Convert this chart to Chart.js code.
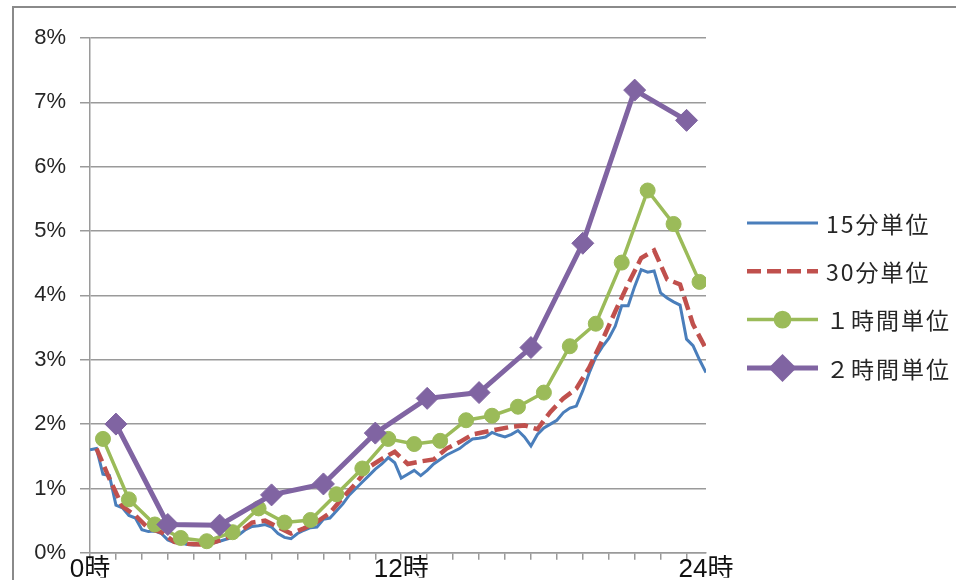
<!DOCTYPE html>
<html lang="ja">
<head>
<meta charset="utf-8">
<title>時間帯別の割合</title>
<script src="https://cdn.jsdelivr.net/npm/chart.js@4.4.1/dist/chart.umd.min.js"></script>
<style>
  html, body { margin: 0; padding: 0; background: #ffffff; }
  #wrap { width: 956px; height: 580px; position: relative; }
  canvas { display: block; }
</style>
</head>
<body>
<div id="wrap"><canvas id="chart" width="956" height="580"></canvas></div>
<script>
// Share of the day's total per time slot (%), x axis in 15-minute slots (0..95)
const series15 = [
  1.60, 1.62, 1.22, 1.20, 0.74, 0.70, 0.58, 0.54, 0.36, 0.33, 0.34, 0.30,
  0.20, 0.16, 0.15, 0.13, 0.12, 0.13, 0.13, 0.15, 0.18, 0.21, 0.24, 0.28,
  0.36, 0.41, 0.42, 0.44, 0.40, 0.30, 0.24, 0.22, 0.30, 0.35, 0.39, 0.40,
  0.52, 0.54, 0.65, 0.76, 0.90, 1.00, 1.10, 1.20, 1.30, 1.38, 1.48, 1.40,
  1.16, 1.22, 1.28, 1.20, 1.28, 1.38, 1.45, 1.52, 1.57, 1.62, 1.70, 1.77,
  1.78, 1.80, 1.87, 1.83, 1.80, 1.84, 1.90, 1.80, 1.66, 1.84, 1.94, 2.00,
  2.06, 2.18, 2.25, 2.28, 2.52, 2.80, 3.04, 3.20, 3.33, 3.52, 3.84, 3.84,
  4.14, 4.40, 4.36, 4.38, 4.04, 3.96, 3.90, 3.85, 3.32, 3.22, 3.00, 2.80
];
const series30 = [
  1.62, 1.15, 0.72, 0.58, 0.38, 0.32, 0.17, 0.14, 0.13, 0.16, 0.23, 0.32,
  0.47, 0.50, 0.40, 0.30, 0.38, 0.48, 0.62, 0.86, 1.08, 1.33, 1.46, 1.57,
  1.38, 1.42, 1.45, 1.62, 1.72, 1.84, 1.88, 1.92, 1.96, 1.98, 1.92, 2.19,
  2.40, 2.55, 2.88, 3.30, 3.75, 4.18, 4.58, 4.70, 4.25, 4.17, 3.55, 3.17
];
const series60 = [
  1.77, 0.83, 0.44, 0.23, 0.18, 0.32, 0.69, 0.47, 0.51, 0.91, 1.31, 1.77,
  1.69, 1.74, 2.06, 2.13, 2.27, 2.49, 3.21, 3.56, 4.51, 5.63, 5.11, 4.21
];
const series120 = [
  2.00, 0.44, 0.43, 0.90, 1.07, 1.86, 2.40, 2.49, 3.19, 4.81, 7.19, 6.72
];

const seriesNames = ['15分単位', '30分単位', '１時間単位', '２時間単位'];
const xTickLabels = ['0時', '12時', '24時'];
const xTickSlots = [0, 48, 95];
const yTickValues = [0, 1, 2, 3, 4, 5, 6, 7, 8];

// each sample sits at the centre slot of its interval
const pts15 = series15.map((v, i) => ({ x: i, y: v }));
const pts30 = series30.map((v, k) => ({ x: 2 * k + 1, y: v }));
const pts60 = series60.map((v, k) => ({ x: 4 * k + 2, y: v }));
const pts120 = series120.map((v, k) => ({ x: 8 * k + 4, y: v }));

const FONT = "'Liberation Sans', 'Noto Sans CJK JP', sans-serif";
const GRID = '#9a9a9a';

// outer frame of the chart object
const framePlugin = {
  id: 'frame',
  beforeDraw(chart) {
    const c = chart.ctx;
    c.save();
    c.fillStyle = '#ffffff';
    c.fillRect(0, 0, chart.width, chart.height);
    c.strokeStyle = '#8a8a8a';
    c.lineWidth = 2;
    c.beginPath();
    c.moveTo(13, chart.height + 5);
    c.lineTo(13, 7);
    c.lineTo(chart.width + 5, 7);
    c.stroke();
    c.restore();
  }
};

// legend drawn as line samples with the series markers
const legendPlugin = {
  id: 'sideLegend',
  afterDraw(chart) {
    const c = chart.ctx;
    const x0 = 747, x1 = 818, tx = 826, y0 = 223, dy = 48.3;
    chart.data.datasets.forEach((ds, i) => {
      const y = y0 + i * dy;
      c.save();
      c.strokeStyle = ds.borderColor;
      c.lineWidth = ds.borderWidth;
      c.setLineDash(ds.borderDash || []);
      c.beginPath();
      c.moveTo(x0, y);
      c.lineTo(x1, y);
      c.stroke();
      c.setLineDash([]);
      if (ds.pointRadius > 0) {
        Chart.helpers.drawPoint(c, {
          pointStyle: ds.pointStyle,
          radius: ds.pointRadius * 0.95,
          borderWidth: 1
        }, (x0 + x1) / 2, y);
        c.fillStyle = ds.pointBackgroundColor;
        c.fill();
      }
      c.fillStyle = '#262626';
      c.font = "23px 'Noto Sans CJK JP', sans-serif";
      c.letterSpacing = '2px';
      c.textBaseline = 'middle';
      c.textAlign = 'left';
      c.fillText(ds.label, tx, y + 1);
      c.restore();
    });
  }
};

new Chart(document.getElementById('chart'), {
  type: 'line',
  data: {
    datasets: [
      {
        label: seriesNames[0], data: pts15, order: 4,
        borderColor: '#4a7ebb', borderWidth: 3, pointRadius: 0
      },
      {
        label: seriesNames[1], data: pts30, order: 3,
        borderColor: '#c0504d', borderWidth: 4.5, borderDash: [14, 6], pointRadius: 0
      },
      {
        label: seriesNames[2], data: pts60, order: 2,
        borderColor: '#9bbb59', borderWidth: 3.5,
        pointStyle: 'circle', pointRadius: 7.5,
        pointBackgroundColor: '#9bbb59', pointBorderColor: '#9bbb59', pointBorderWidth: 1
      },
      {
        label: seriesNames[3], data: pts120, order: 1,
        borderColor: '#8064a2', borderWidth: 5,
        pointStyle: 'rectRot', pointRadius: 11,
        pointBackgroundColor: '#8064a2', pointBorderColor: '#8064a2', pointBorderWidth: 1
      }
    ]
  },
  options: {
    responsive: false,
    animation: false,
    devicePixelRatio: 1,
    layout: { padding: { top: 38, right: 250, bottom: 0, left: 0 } },
    elements: { line: { tension: 0 } },
    plugins: { legend: { display: false }, tooltip: { enabled: false } },
    scales: {
      x: {
        type: 'linear',
        min: 0,
        max: 95,
        afterBuildTicks(scale) {
          const t = [];
          for (let s = 0; s <= 92; s += 4) t.push({ value: s });
          t.push({ value: 95 });
          scale.ticks = t;
        },
        afterFit(scale) { scale.height = 25; },
        grid: {
          drawOnChartArea: false,
          drawTicks: true,
          tickLength: 7,
          lineWidth: 1.5,
          color: (ctx) => (ctx.tick && ctx.tick.value === 95 ? 'rgba(0,0,0,0)' : GRID)
        },
        border: { display: true, color: GRID, width: 1.5 },
        ticks: {
          autoSkip: false,
          maxRotation: 0,
          padding: -6,
          color: '#111111',
          font: { family: FONT, size: 26 },
          callback(value) {
            const k = xTickSlots.indexOf(value);
            return k >= 0 ? xTickLabels[k] : '';
          }
        }
      },
      y: {
        min: 0,
        max: 8,
        afterBuildTicks(scale) {
          scale.ticks = yTickValues.map(v => ({ value: v }));
        },
        afterFit(scale) { scale.width = 90; },
        grid: { color: GRID, lineWidth: 1.5, tickLength: 10 },
        border: { display: true, color: GRID, width: 1.5 },
        ticks: {
          padding: 14,
          color: '#262626',
          font: { family: FONT, size: 22 },
          callback: (v) => v + '%'
        }
      }
    }
  },
  plugins: [framePlugin, legendPlugin]
});
</script>
</body>
</html>
